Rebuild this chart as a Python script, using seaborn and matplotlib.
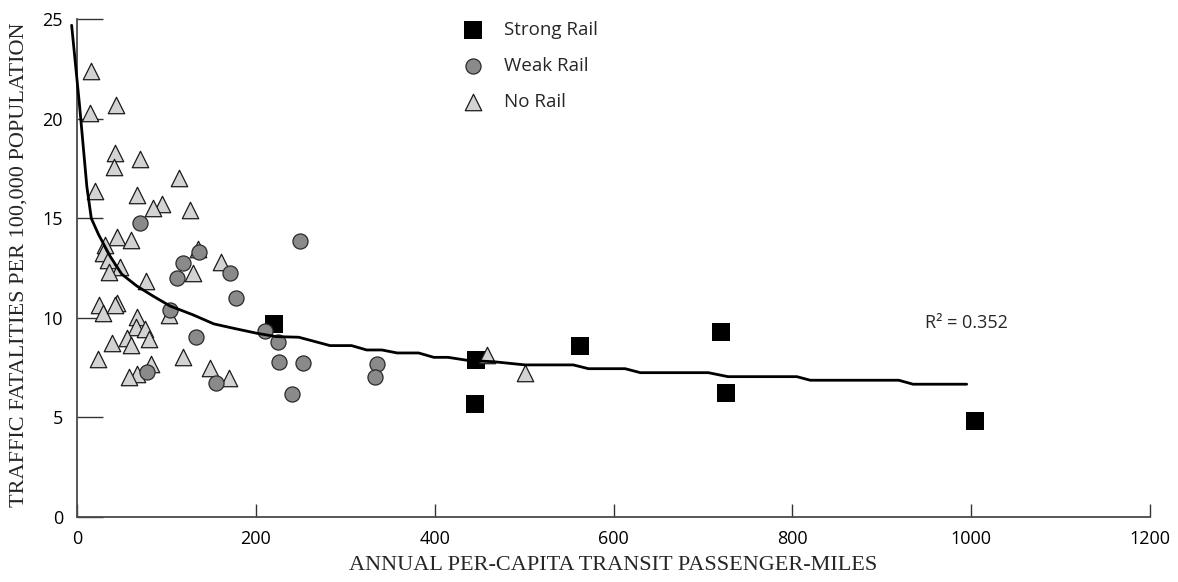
import matplotlib
matplotlib.use("Agg")
import matplotlib.pyplot as plt
import seaborn as sns

# Annual per-capita transit passenger-miles vs traffic fatalities per 100,000
strong_x = [220, 446, 445, 563, 720, 726, 1004]
strong_y = [9.70, 7.89, 5.68, 8.61, 9.30, 6.25, 4.84]

weak_x = [70, 136, 119, 112, 104, 133, 156, 78, 171, 178, 249, 210, 225, 226,
          253, 240, 336, 333]
weak_y = [14.76, 13.30, 12.78, 12.03, 10.40, 9.06, 6.72, 7.27, 12.28, 11.02,
          13.88, 9.35, 8.81, 7.77, 7.75, 6.16, 7.67, 7.02]

none_x = [16, 14, 44, 43, 41, 70, 114, 20, 67, 95, 85, 126, 45, 60, 31, 29,
          35, 48, 36, 77, 130, 161, 25, 29, 45, 42, 67, 66, 76, 81, 56, 60,
          39, 103, 24, 118, 149, 83, 67, 58, 170, 459, 501, 135]
none_y = [22.40, 20.30, 20.70, 18.30, 17.60, 18.00, 17.05, 16.40, 16.15, 15.74,
          15.50, 15.40, 14.05, 13.90, 13.67, 13.25, 12.90, 12.58, 12.33, 11.83,
          12.28, 12.80, 10.65, 10.24, 10.74, 10.65, 10.07, 9.56, 9.43, 8.93,
          8.98, 8.64, 8.76, 10.15, 7.92, 8.02, 7.49, 7.69, 7.19, 7.05, 6.97,
          8.14, 7.25, 13.45]

# Fitted trend curve vertices
trend_x = [-6, 3, 11, 16, 24, 37, 50, 67, 85, 104, 130, 153, 175, 201, 223,
           248, 283, 307, 324, 341, 358, 382, 399, 415, 438, 466, 501, 555,
           572, 613, 630, 706, 728, 805, 820, 919, 935, 995]
trend_y = [24.7, 20.6, 16.6, 15.0, 14.2, 13.1, 12.2, 11.6, 11.1, 10.6, 10.15,
           9.70, 9.48, 9.23, 9.06, 9.03, 8.61, 8.61, 8.39, 8.39, 8.24, 8.24,
           8.02, 8.02, 7.86, 7.80, 7.64, 7.64, 7.45, 7.45, 7.25, 7.25, 7.05,
           7.05, 6.87, 6.87, 6.67, 6.67]

x_ticks = [0, 200, 400, 600, 800, 1000, 1200]
y_ticks = [0, 5, 10, 15, 20, 25]
r2_text = "R\u00b2 = 0.352"

sns.set_style("white")
plt.rcParams["font.family"] = ["Open Sans", "DejaVu Sans"]

W, H = 1178, 582
fig = plt.figure(figsize=(W / 100, H / 100), dpi=100)
ax = fig.add_axes([77 / W, 1 - 517 / H, (1150 - 77) / W, (517 - 19.3) / H])

# squares at the bottom, then triangles, circles above
sns.scatterplot(x=strong_x, y=strong_y, marker="s", s=150, color="black",
                linewidth=0, ax=ax, label="Strong Rail", zorder=2)
sns.scatterplot(x=none_x, y=none_y, marker="^", s=140, color="#d3d3d3",
                edgecolor="#1a1a1a", linewidth=0.9, ax=ax, label="No Rail",
                zorder=3)
sns.scatterplot(x=weak_x, y=weak_y, marker="o", s=118, color="#8a8a8a",
                edgecolor="#2a2a2a", linewidth=0.9, ax=ax, label="Weak Rail",
                zorder=4)
sns.lineplot(x=trend_x, y=trend_y, sort=False, estimator=None, color="black",
             linewidth=2.0, ax=ax, clip_on=False, zorder=5)

ax.set_xlim(0, 1200)
ax.set_ylim(0, 25)
ax.set_xticks(x_ticks)
ax.set_yticks(y_ticks)
ax.set_xticklabels([str(t) for t in x_ticks])
ax.set_yticklabels([str(t) for t in y_ticks])

for side in ("top", "right"):
    ax.spines[side].set_visible(False)
for side in ("left", "bottom"):
    ax.spines[side].set_color("#4a4a4a")
    ax.spines[side].set_linewidth(1.3)

ax.tick_params(axis="x", bottom=True, direction="in", length=9.4, width=1.0,
               color="#333333", pad=9, labelsize=13, labelcolor="black")
ax.tick_params(axis="y", left=True, direction="in", length=18.7, width=1.0,
               color="#333333", pad=10, labelsize=13, labelcolor="black")

serif = ["Liberation Serif", "DejaVu Serif"]
ax.set_xlabel("")
ax.set_ylabel("")
fig.text(613.5 / W, 1 - 566 / H, "ANNUAL PER-CAPITA TRANSIT PASSENGER-MILES",
         ha="center", va="center", fontsize=16, family=serif)
fig.text(19 / W, 1 - 265 / H, "TRAFFIC FATALITIES PER 100,000 POPULATION",
         ha="center", va="center", rotation=90, fontsize=16, family=serif)

ax.text(948.5, 9.75, r2_text, ha="left", va="center", fontsize=13)

handles, labels = ax.get_legend_handles_labels()
order = ["Strong Rail", "Weak Rail", "No Rail"]
hmap = dict(zip(labels, handles))
ax.legend([hmap[k] for k in order], order, loc="upper left",
          bbox_to_anchor=(463.6 / W, 1 - 21 / H), bbox_transform=fig.transFigure,
          frameon=False, fontsize=13.5, handlelength=1.0, handletextpad=1.15,
          labelspacing=0.95, borderpad=0, borderaxespad=0, scatterpoints=1)

fig.savefig("out.png", dpi=100, facecolor="white")
